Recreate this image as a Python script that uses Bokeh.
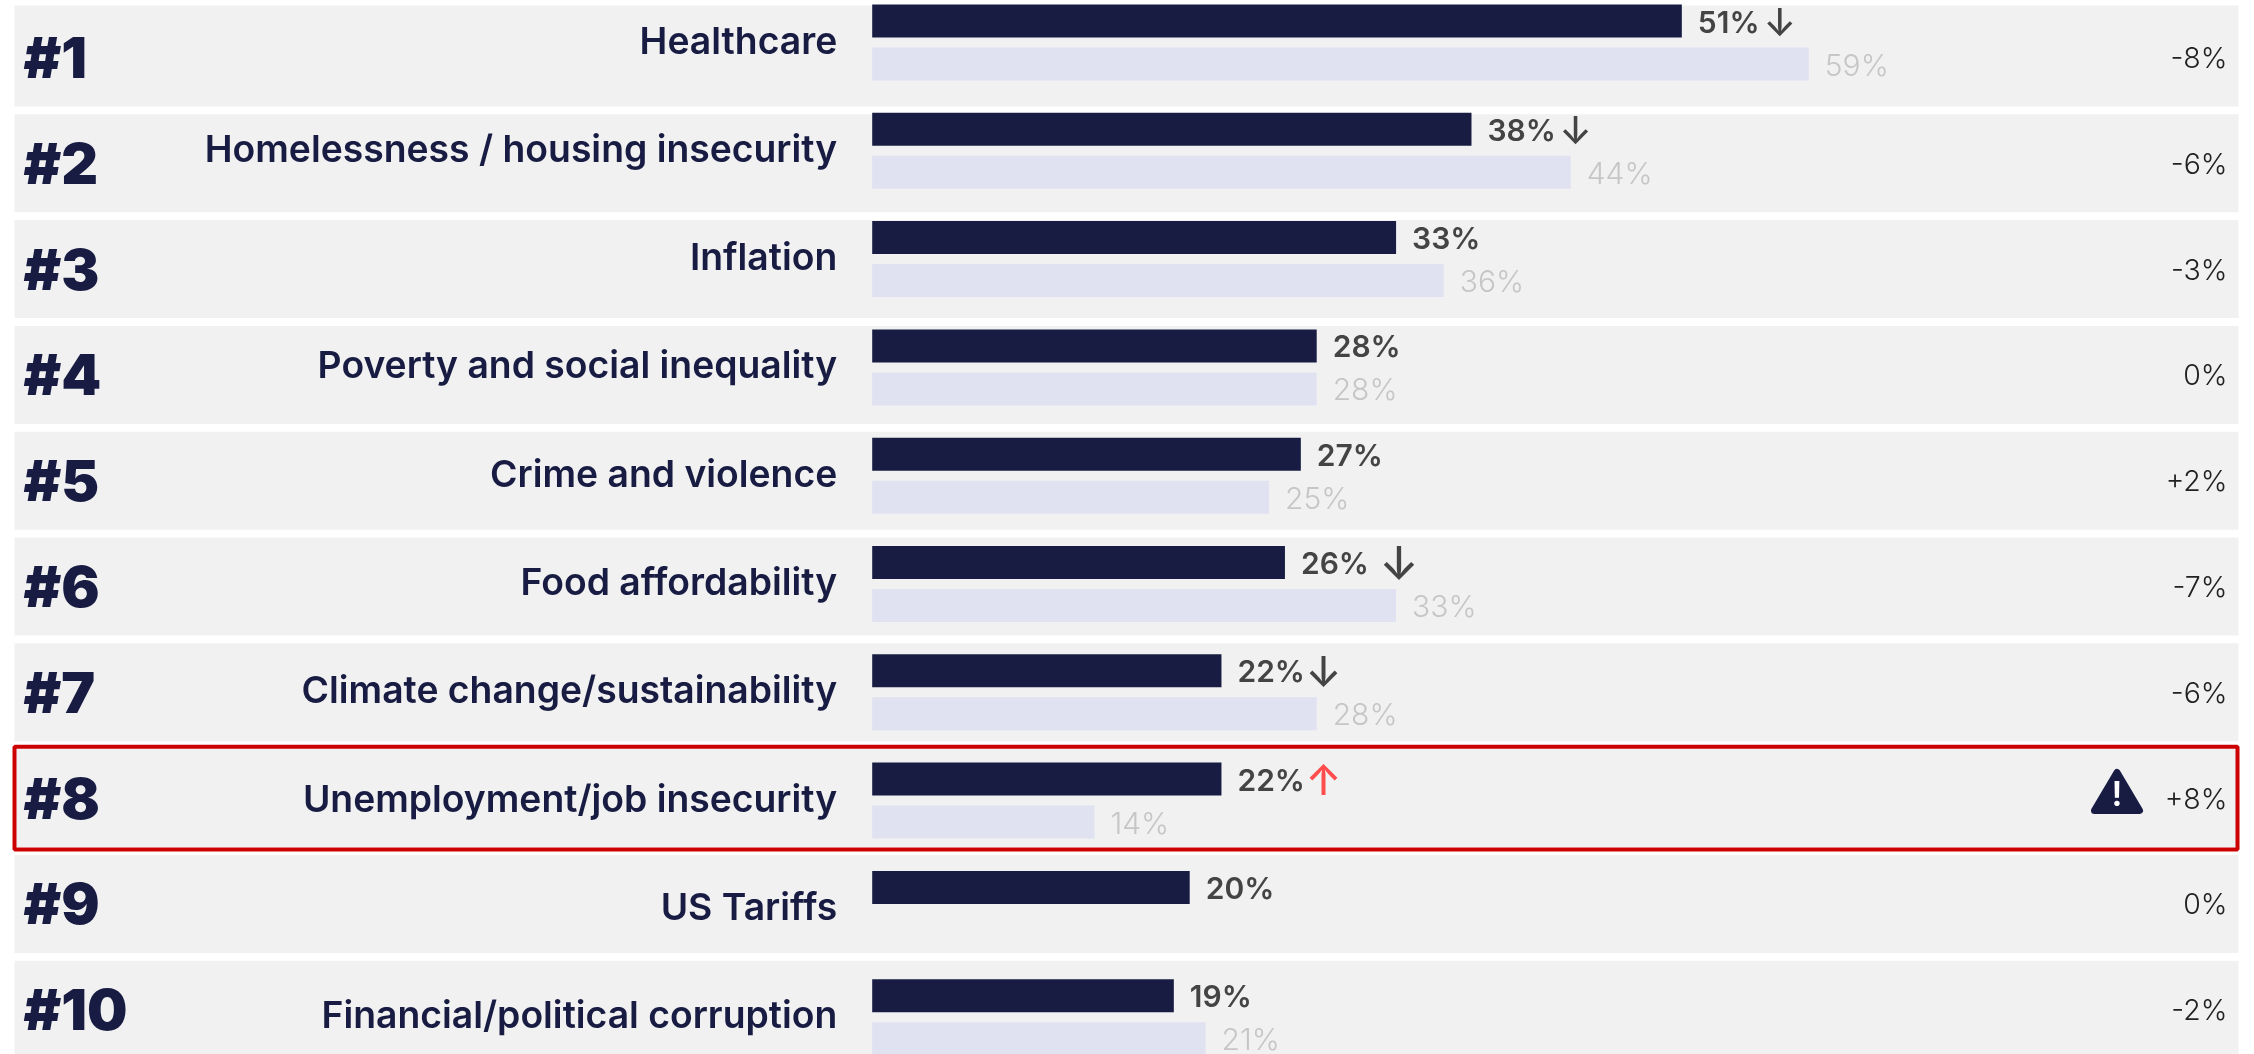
from bokeh.plotting import figure
from bokeh.embed import file_html
from bokeh.resources import INLINE
from bokeh.core.properties import value

ranks = ["#1","#2","#3","#4","#5","#6","#7","#8","#9","#10"]
categories = ["Healthcare","Homelessness / housing insecurity","Inflation","Poverty and social inequality",
              "Crime and violence","Food affordability","Climate change/sustainability",
              "Unemployment/job insecurity","US Tariffs","Financial/political corruption"]
current = [51,37.75,33,28,27,26,22,22,20,19]
previous = [59,44,36,28,25,33,28,14,None,21]
deltas = ["-8%","-6%","-3%","0%","+2%","-7%","-6%","+8%","0%","-2%"]
arrow_rows = [0,1,5,6,7]
arrow_text = ["↓","↓","↓","↓","↑"]
arrow_colors = ["#444444","#444444","#444444","#444444","#ff4d4d"]
arrow_sizes = ["38px","38px","46px","42px","42px"]
arrow_gaps = [98,104,114,102,102]

W,H = 2254,1054
PX = 15.875; X0 = 871.7
NAVY="#181c42"; LIGHT="#e0e1f1"; BG="#f1f1f1"

p = figure(width=W,height=H,output_backend="svg",toolbar_location=None,
           x_range=(-X0/PX,(W-X0)/PX),y_range=(H,0),min_border=0,outline_line_color=None)
p.axis.visible=False; p.grid.visible=False
p.styles={"position":"fixed","left":"0","top":"0"}
n=len(ranks)
row_c=[57+105.8*i for i in range(n)]
bar_t=[4+108.3*i for i in range(n)]
lab_c=[39.5+108.3*i for i in range(n)]
right=(2238-X0)/PX; l0=(14-X0)/PX

p.quad(left=l0,right=right,top=[c-49-(3 if i==0 else 0) for i,c in enumerate(row_c)],
       bottom=[c+49 for c in row_c],color=BG,line_color=None)
p.quad(left=0,right=current,top=bar_t,bottom=[t+33 for t in bar_t],color=NAVY,line_color=None)
idx=[i for i,v in enumerate(previous) if v is not None]
p.quad(left=0,right=[previous[i] for i in idx],top=[bar_t[i]+43 for i in idx],
       bottom=[bar_t[i]+76 for i in idx],color=LIGHT,line_color=None)

p.text(x=(23-X0)/PX,y=row_c,text=ranks,text_font=value("Inter Black"),
       text_font_size="57px",text_color=NAVY,text_baseline="middle",text_align="left")
p.text(x=0,y=lab_c,text=categories,x_offset=-35,text_font=value("Inter SemiBold"),
       text_font_size="37.3px",text_color=NAVY,text_baseline="middle",text_align="right")
p.text(x=current,y=[t+17 for t in bar_t],text=[f"{round(v)}%" for v in current],x_offset=16,
       text_font=value("Inter SemiBold"),text_font_size="30px",text_color="#444444",
       text_baseline="middle",text_align="left")
p.text(x=[previous[i] for i in idx],y=[bar_t[i]+60 for i in idx],text=[f"{previous[i]}%" for i in idx],
       x_offset=16,text_font=value("Inter Light"),text_font_size="30px",text_color="#c6c6c6",
       text_baseline="middle",text_align="left")
p.text(x=[current[i] for i in arrow_rows],y=[bar_t[i]+17 for i in arrow_rows],text=arrow_text,
       x_offset=arrow_gaps,text_font=value("Inter Medium"),text_font_size=arrow_sizes,
       text_color=arrow_colors,text_baseline="middle",text_align="center")
p.text(x=(2227-X0)/PX,y=row_c,text=deltas,text_font=value("Inter Light"),text_font_size="28.5px",
       text_color="#222222",text_baseline="middle",text_align="right")
# highlight frame
p.quad(left=l0,right=(2237-X0)/PX,top=[row_c[7]-51.4],bottom=[row_c[7]+51.4],fill_color=None,
       line_color="#cc0000",line_width=4)
# warning icon
tx=[(2116.5-X0)/PX,(2139-X0)/PX,(2094-X0)/PX]
p.patch(tx,[772,810,810],color=NAVY,line_width=7,line_join="round")
p.text(x=[(2116.5-X0)/PX],y=[793],text=["!"],text_font=value("Inter SemiBold"),
       text_font_size="34px",text_color="white",text_baseline="middle",text_align="center")
open("out.html","w").write(file_html(p,INLINE))
